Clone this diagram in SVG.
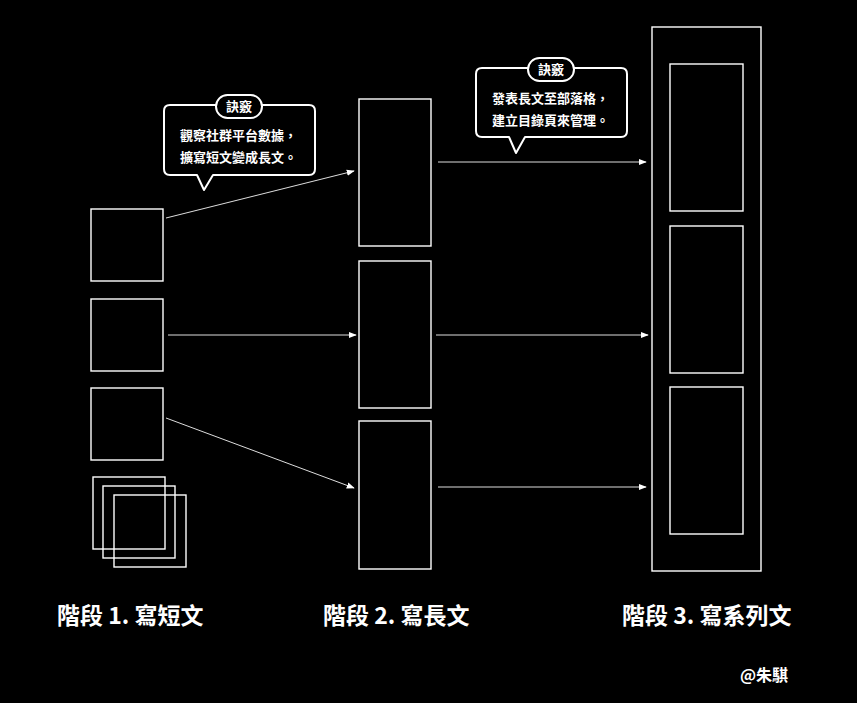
<svg xmlns="http://www.w3.org/2000/svg" width="857" height="703" viewBox="0 0 857 703">
<style>
.box{fill:none;stroke:#fff;stroke-width:1.4}
.con{fill:none;stroke:#ddd;stroke-width:1}
.call{fill:#000;stroke:#fff;stroke-width:2;stroke-linejoin:round}
.t{font-family:"Noto Sans CJK TC","Noto Sans CJK SC",sans-serif;fill:#fff}
.tip{font-size:13px;font-weight:bold}
.lab{font-size:23px;font-weight:bold}
</style>
<defs>
<marker id="ah" viewBox="0 0 10 10" refX="9" refY="5" markerWidth="8" markerHeight="8" markerUnits="userSpaceOnUse" orient="auto">
<path d="M0,1 L10,5 L0,9 Z" fill="#fff"/>
</marker>
</defs>
<rect width="857" height="703" fill="#000"/>
<g id="connectors">
<line class="con" x1="166" y1="218" x2="354" y2="171" marker-end="url(#ah)"/>
<line class="con" x1="168" y1="335" x2="356" y2="335" marker-end="url(#ah)"/>
<line class="con" x1="166" y1="418" x2="354" y2="488" marker-end="url(#ah)"/>
<line class="con" x1="438" y1="162" x2="646" y2="162" marker-end="url(#ah)"/>
<line class="con" x1="436" y1="335" x2="648" y2="335" marker-end="url(#ah)"/>
<line class="con" x1="438" y1="487" x2="646" y2="487" marker-end="url(#ah)"/>
</g>
<g id="short1"><rect class="box" x="91" y="209" width="72" height="72"/></g>
<g id="short2"><rect class="box" x="91" y="299" width="72" height="72"/></g>
<g id="short3"><rect class="box" x="91" y="388" width="72" height="72"/></g>
<g id="shortStack">
<rect class="box" x="93" y="477" width="72" height="72"/>
<rect class="box" x="103" y="486" width="72" height="72"/>
<rect class="box" x="114" y="495" width="72" height="72"/>
</g>
<g id="long1"><rect class="box" x="359" y="99" width="72" height="147"/></g>
<g id="long2"><rect class="box" x="359" y="261" width="72" height="147"/></g>
<g id="long3"><rect class="box" x="359" y="421" width="72" height="148"/></g>
<g id="series">
<rect class="box" x="652" y="27" width="109" height="544"/>
<rect class="box" x="670" y="64" width="73" height="147"/>
<rect class="box" x="670" y="226" width="73" height="147"/>
<rect class="box" x="670" y="387" width="73" height="147"/>
</g>
<g id="tip1">
<path class="call" d="M170,105 H309 Q315,105 315,111 V169 Q315,175 309,175 H213 L204,190 L197,175 H170 Q164,175 164,169 V111 Q164,105 170,105 Z"/>
<rect class="call" x="216" y="95" width="46" height="23" rx="11.5"/>
<text class="t tip" x="239" y="111" text-anchor="middle">訣竅</text>
<text class="t tip" x="180" y="140">觀察社群平台數據，</text>
<text class="t tip" x="180" y="162">擴寫短文變成長文。</text>
</g>
<g id="tip2">
<path class="call" d="M482,68 H621 Q627,68 627,74 V131 Q627,137 621,137 H525 L516,153 L509,137 H482 Q476,137 476,131 V74 Q476,68 482,68 Z"/>
<rect class="call" x="528" y="58" width="46" height="23" rx="11.5"/>
<text class="t tip" x="551" y="74" text-anchor="middle">訣竅</text>
<text class="t tip" x="492" y="103">發表長文至部落格，</text>
<text class="t tip" x="492" y="125">建立目錄頁來管理。</text>
</g>
<g id="labels">
<text class="t lab" x="57" y="624">階段 1. 寫短文</text>
<text class="t lab" x="323" y="624">階段 2. 寫長文</text>
<text class="t lab" x="622" y="624">階段 3. 寫系列文</text>
<text class="t" x="740" y="681" font-size="16" font-weight="bold">@朱騏</text>
</g>
</svg>
